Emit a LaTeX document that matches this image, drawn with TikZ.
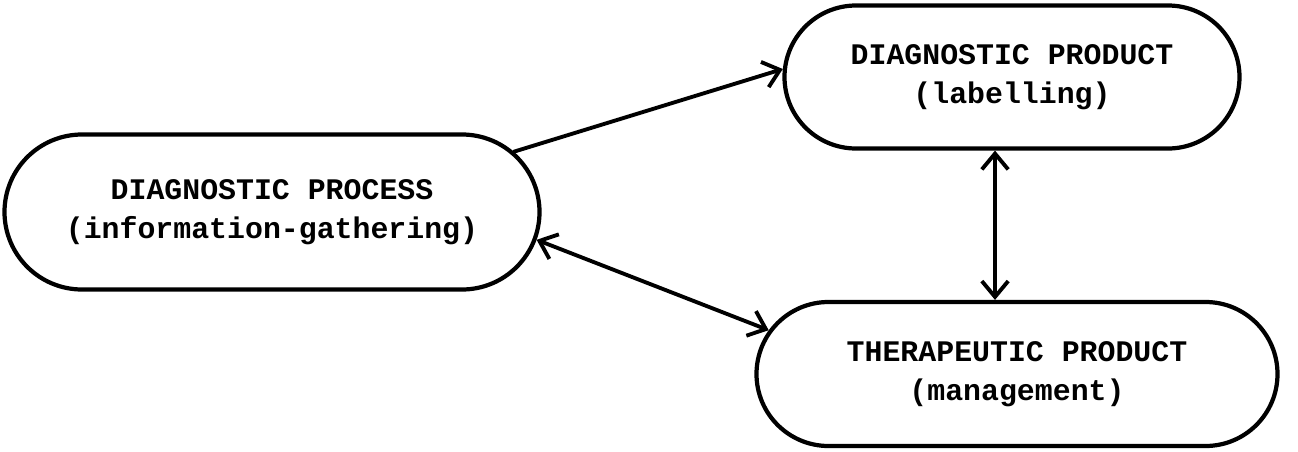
\documentclass[tikz,border=0pt]{standalone}
\usepackage{fontspec}
\newfontfamily\typerfont{Liberation Mono}
\usetikzlibrary{calc, arrows.meta, shapes.misc}

\begin{document}
\begin{tikzpicture}[x=0.02cm, y=0.02cm,
  stage/.style={rounded rectangle, draw, line width=2.4pt, align=center,
    font=\typerfont\bfseries\fontsize{17}{22}\selectfont, inner sep=0pt},
  link/.style={line width=2.2pt, line cap=round,
    arrows={-Straight Barb[length=9pt, width=15pt, line width=2.2pt]}},
  twoway/.style={link,
    arrows={Straight Barb[length=9pt, width=15pt, line width=2.2pt]-Straight Barb[length=9pt, width=15pt, line width=2.2pt]}}]

% Fix the page size
\useasboundingbox (0, 0) rectangle (1298, 451);

% Define the three stages
\node[stage, minimum width=535*0.02cm, minimum height=155*0.02cm] (process) at (272, 239)
  {DIAGNOSTIC PROCESS\\(information-gathering)};
\node[stage, minimum width=455*0.02cm, minimum height=143*0.02cm] (labelling) at (1012, 374)
  {DIAGNOSTIC PRODUCT\\(labelling)};
\node[stage, minimum width=521*0.02cm, minimum height=144*0.02cm] (management) at (1017, 77)
  {THERAPEUTIC PRODUCT\\(management)};

% Process leads to labelling
\draw[link] (process.14) -- (labelling.178);

% Labelling and management both ways
\draw[twoway] ([xshift=-0.34cm]labelling.south) -- ([xshift=-0.34cm]labelling.south |- management.north);

% Process and management both ways
\draw[twoway] (process.-6) -- (management.170);

\end{tikzpicture}
\end{document}
